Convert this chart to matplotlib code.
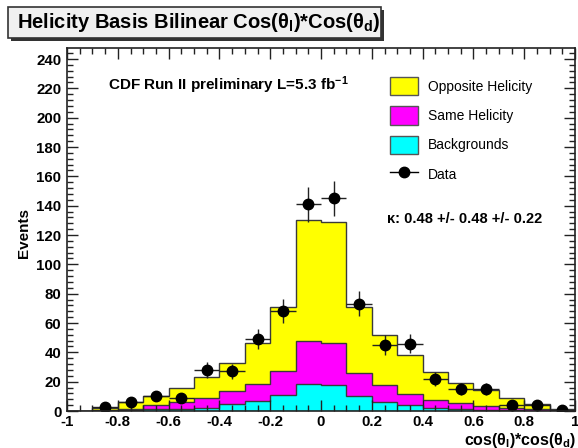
import numpy as np
import matplotlib.pyplot as plt
from matplotlib.patches import Patch, Rectangle
from matplotlib.lines import Line2D
from matplotlib.ticker import MultipleLocator

plt.rcParams['font.family'] = ['Liberation Sans', 'DejaVu Sans']
plt.rcParams['mathtext.fontset'] = 'custom'
plt.rcParams['mathtext.rm'] = 'Liberation Sans:bold'
plt.rcParams['mathtext.it'] = 'Liberation Sans:bold'
plt.rcParams['mathtext.bf'] = 'Liberation Sans:bold'

# bin edges of cos(theta_l)*cos(theta_d)
edges = [-1.0, -0.9, -0.8, -0.7, -0.6, -0.5, -0.4, -0.3, -0.2, -0.1, 0.0,
         0.1, 0.2, 0.3, 0.4, 0.5, 0.6, 0.7, 0.8, 0.9, 1.0]

backgrounds = [0.0, 0.3, 0.5, 1.2, 1.6, 2.3, 4.6, 6.6, 10.8, 18.7,
               17.8, 10.3, 6.2, 4.1, 2.3, 1.1, 0.8, 0.5, 0.3, 0.1]
same_hel = [0.1, 0.3, 1.1, 2.7, 4.6, 6.4, 8.8, 11.6, 16.3, 29.2,
            28.5, 15.7, 11.6, 7.3, 5.4, 4.1, 2.8, 1.6, 0.9, 0.3]
opp_hel = [0.2, 1.7, 4.6, 6.4, 9.8, 14.5, 19.6, 28.5, 43.9, 82.1,
           82.5, 45.0, 33.9, 26.9, 19.2, 14.2, 10.5, 7.0, 3.8, 0.7]
data = [0, 3, 6, 10, 9, 28, 27, 49, 68, 141,
        145, 73, 45, 46, 22, 15, 15, 4, 4, 1]

edges = np.array(edges)
bkg = np.array(backgrounds)
same = np.array(same_hel)
opp = np.array(opp_hel)
data = np.array(data, dtype=float)

fig = plt.figure(figsize=(5.78, 4.48), dpi=100)
fig.patch.set_facecolor('white')
ax = fig.add_axes([67 / 578, 37 / 448, 508 / 578, 363 / 448])

outline = '#3a3a3a'
layers = [(bkg, 0 * bkg, '#00ffff'),
          (same, bkg, '#ff00ff'),
          (opp, bkg + same, '#ffff00')]
for vals, base, col in layers:
    ax.stairs(base + vals, edges, baseline=base, fill=True, color=col, lw=0)
for vals, base, col in layers:
    ax.stairs(base + vals, edges, baseline=0, fill=False, color=outline, lw=1.0)

# data points with sqrt(N) errors
centers = 0.5 * (edges[:-1] + edges[1:])
m = data > 0
ax.errorbar(centers[m], data[m], yerr=np.sqrt(data[m]), xerr=0.05,
            fmt='o', color='black', ms=7.5, elinewidth=1.0, capsize=0,
            ecolor='#222222')


def fmt_x(v, pos):
    v = round(v, 2)
    return '0' if v == 0 else f'{v:g}'


ax.set_xlim(-1, 1)
ax.set_ylim(0, 247.5)
ax.xaxis.set_major_locator(MultipleLocator(0.2))
ax.xaxis.set_minor_locator(MultipleLocator(0.05))
ax.yaxis.set_major_locator(MultipleLocator(20))
ax.yaxis.set_minor_locator(MultipleLocator(4))
ax.xaxis.set_major_formatter(plt.FuncFormatter(fmt_x))
ax.tick_params(which='both', direction='in', top=True, right=True,
               labelsize=10.8, width=1.0, color='#222222')
ax.tick_params(which='major', length=8, pad=4)
ax.tick_params(axis='x', which='major', pad=3)
ax.tick_params(which='minor', length=4)
for lab in ax.get_xticklabels() + ax.get_yticklabels():
    lab.set_fontweight('bold')
for sp in ax.spines.values():
    sp.set_linewidth(1.2)
    sp.set_color('#222222')

# legend
handles = [Patch(facecolor='#ffff00', edgecolor='#555555', lw=1),
           Patch(facecolor='#ff00ff', edgecolor='#555555', lw=1),
           Patch(facecolor='#00ffff', edgecolor='#555555', lw=1),
           Line2D([], [], color='black', marker='o', ms=7.5, lw=1)]
labels = ['Opposite Helicity', 'Same Helicity', 'Backgrounds', 'Data']
fig.legend(handles, labels, loc='upper left',
           bbox_to_anchor=(390 / 578, 1 - 77 / 448), frameon=False,
           fontsize=10, handlelength=2.0, handleheight=1.65,
           labelspacing=0.8, handletextpad=0.72, borderpad=0,
           borderaxespad=0)
fig.text(387 / 578, 1 - 219 / 448, 'κ: 0.48 +/- 0.48 +/- 0.22',
         fontsize=10.5, fontweight='bold', va='center')

fig.text(108 / 578, 1 - 85 / 448,
         r'CDF Run II preliminary L=5.3 fb$^{-1}$',
         fontsize=11, fontweight='bold', va='center')

fig.text(24 / 578, 1 - 233 / 448, 'Events', rotation=90,
         fontsize=11, fontweight='bold', ha='center', va='center')
fig.text(576 / 578, 1 - 440 / 448, r'cos(θ$_l$)*cos(θ$_d$)',
         fontsize=11.5, fontweight='bold', ha='right', va='center')

# title box with drop shadow
fig.patches.append(Rectangle((11 / 578, 1 - 41 / 448), 373 / 578, 31 / 448,
                             transform=fig.transFigure, facecolor='#333333',
                             edgecolor='none'))
fig.patches.append(Rectangle((8 / 578, 1 - 38 / 448), 373 / 578, 31 / 448,
                             transform=fig.transFigure, facecolor='#f0f0f0',
                             edgecolor='#333333', lw=1.2))
fig.text(17 / 578, 1 - 22 / 448,
         r'Helicity Basis Bilinear Cos(θ$_l$)*Cos(θ$_d$)',
         fontsize=14.5, fontweight='bold', va='center')

fig.savefig('out.png', dpi=100)
